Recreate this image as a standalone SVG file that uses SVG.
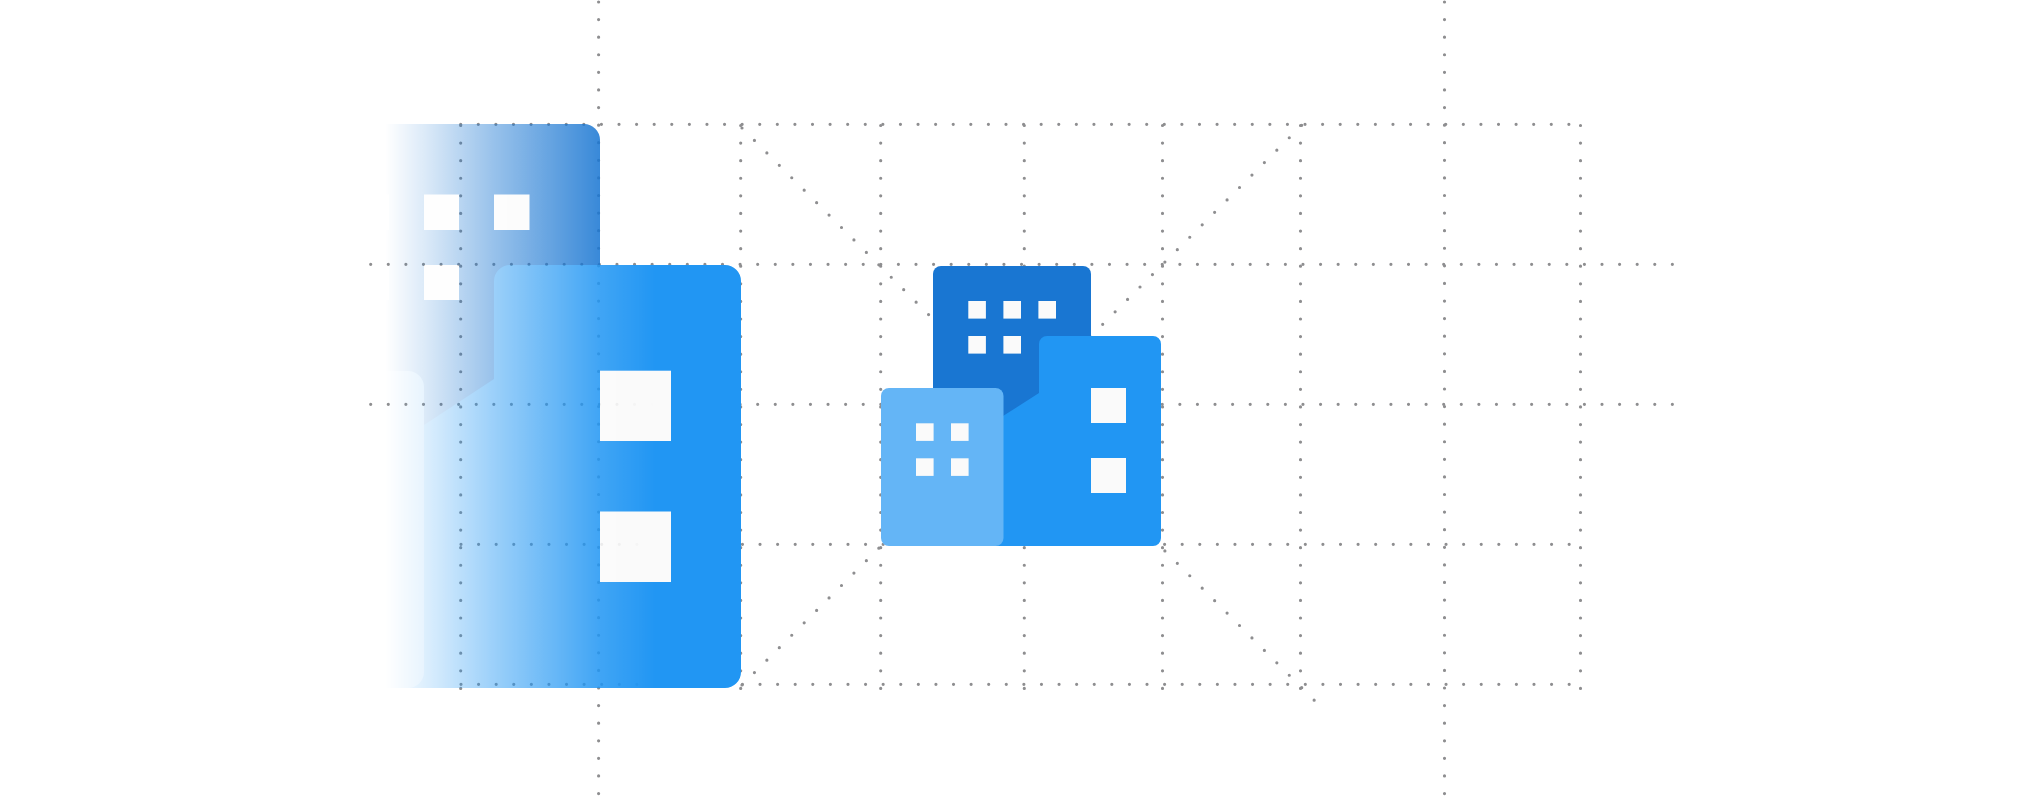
<svg xmlns="http://www.w3.org/2000/svg" width="2040" height="796" viewBox="0 0 2040 796">
<style>
.g{fill:none;stroke:#8e8e90;stroke-width:3.2;stroke-linecap:round;stroke-dasharray:0 17.59}
.d{fill:#1976D2}.m{fill:#2196F3}.l{fill:#64B5F6}.w{fill:#FAFAFA}
</style>
<defs>
<linearGradient id="fade" gradientUnits="userSpaceOnUse" x1="385" y1="0" x2="655" y2="0">
<stop offset="0" stop-color="#fff" stop-opacity="0"/>
<stop offset="0.144" stop-color="#fff" stop-opacity="0.15"/>
<stop offset="0.404" stop-color="#fff" stop-opacity="0.45"/>
<stop offset="0.796" stop-color="#fff" stop-opacity="0.86"/>
<stop offset="1" stop-color="#fff" stop-opacity="1"/>
</linearGradient>
<mask id="fadeMask" maskUnits="userSpaceOnUse" x="0" y="0" width="2040" height="796">
<rect x="0" y="0" width="2040" height="796" fill="url(#fade)"/>
</mask>
</defs>
<rect id="background" x="0" y="0" width="2040" height="796" fill="#fff"/>
<g id="grid">
<path class="g" d="M460.7 124.3H1582"/>
<path class="g" d="M370.7 264.3H1676"/>
<path class="g" d="M370.7 404.3H1676"/>
<path class="g" d="M461 544.3H1582"/>
<path class="g" d="M461 684.3H1582"/>
<path class="g" d="M460.7 125.5V690"/>
<path class="g" d="M598.6 2V796"/>
<path class="g" d="M740.7 125.5V690"/>
<path class="g" d="M880.7 125.5V690"/>
<path class="g" d="M1024.3 125.5V690"/>
<path class="g" d="M1162.5 125.5V690"/>
<path class="g" d="M1300.5 125.5V690"/>
<path class="g" d="M1444.5 2V796"/>
<path class="g" d="M1580.5 125.5V690"/>
<path class="g" d="M742 128L1316 702"/>
<path class="g" d="M1301.7 125.3L741 686"/>
</g>
<g id="large-icon" mask="url(#fadeMask)">
<rect class="d" x="285" y="124" width="315" height="310" rx="16"/>
<rect class="w" x="354" y="194.500" width="35" height="35.500"/>
<rect class="w" x="424" y="194.500" width="35" height="35.500"/>
<rect class="w" x="494" y="194.500" width="35.500" height="35.500"/>
<rect class="w" x="354" y="265" width="35" height="35"/>
<rect class="w" x="424" y="265" width="35" height="35"/>
<path class="m" d="M424 425L494 379V281a16 16 0 0 1 16-16H725a16 16 0 0 1 16 16V672a16 16 0 0 1-16 16H400V425Z"/>
<rect class="l" x="181" y="371" width="243" height="317" rx="16"/>
<rect class="w" x="600" y="370.700" width="71" height="70.300"/>
<rect class="w" x="600" y="511.500" width="71" height="70.500"/>
</g>
<g id="small-icon">
<rect class="d" x="933" y="266" width="158" height="170" rx="8"/>
<rect class="w" x="968.3" y="301" width="17.6" height="17.6"/>
<rect class="w" x="1003.4" y="301" width="17.6" height="17.6"/>
<rect class="w" x="1038.4" y="301" width="17.6" height="17.6"/>
<rect class="w" x="968.3" y="336" width="17.6" height="17.6"/>
<rect class="w" x="1003.4" y="336" width="17.6" height="17.6"/>
<path class="m" d="M1003 416L1039 393V344a8 8 0 0 1 8-8H1153a8 8 0 0 1 8 8V538a8 8 0 0 1-8 8H990V416Z"/>
<rect class="w" x="1091" y="388" width="35" height="35"/>
<rect class="w" x="1091" y="458" width="35" height="35"/>
<rect class="l" x="881" y="388" width="122.500" height="158" rx="8"/>
<rect class="w" x="916" y="423.300" width="17.600" height="17.600"/>
<rect class="w" x="951" y="423.300" width="17.600" height="17.600"/>
<rect class="w" x="916" y="458.300" width="17.600" height="17.600"/>
<rect class="w" x="951" y="458.300" width="17.600" height="17.600"/>
</g>
</svg>
